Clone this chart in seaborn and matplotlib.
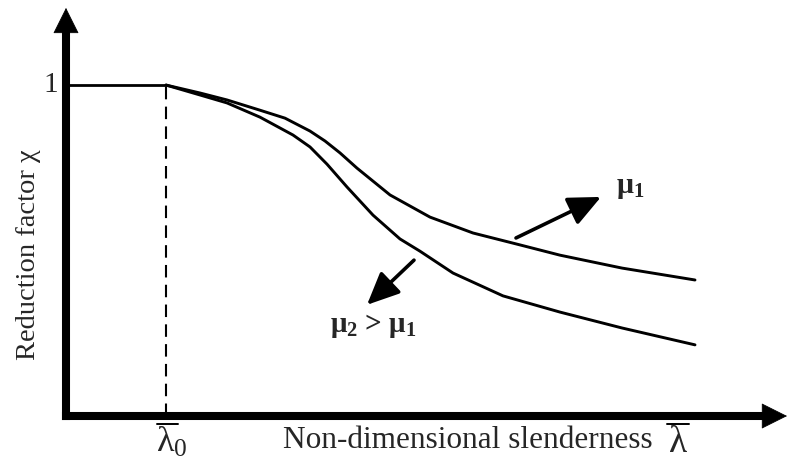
import matplotlib
matplotlib.use("Agg")
import matplotlib.pyplot as plt
import seaborn as sns
import pandas as pd

# Plateau of the reduction factor up to the limiting slenderness
lam_0 = 0.2
lam_plateau = [0.0, 0.2]
chi_plateau = [1.0, 1.0]

# Buckling curve for imperfection factor mu1 (upper curve)
lam_mu1 = [0.200, 0.268, 0.322, 0.388, 0.438, 0.488, 0.518, 0.548, 0.582,
           0.648, 0.728, 0.814, 0.908, 0.988, 1.112, 1.258]
chi_mu1 = [1.000, 0.976, 0.955, 0.924, 0.900, 0.861, 0.831, 0.795, 0.749,
           0.668, 0.601, 0.553, 0.517, 0.486, 0.447, 0.411]

# Buckling curve for imperfection factor mu2 > mu1 (lower curve)
lam_mu2 = [0.200, 0.268, 0.322, 0.388, 0.454, 0.488, 0.522, 0.562, 0.614,
           0.668, 0.708, 0.774, 0.874, 0.988, 1.112, 1.258]
chi_mu2 = [1.000, 0.970, 0.946, 0.903, 0.849, 0.813, 0.761, 0.692, 0.607,
           0.535, 0.498, 0.432, 0.363, 0.314, 0.266, 0.215]

sns.set_theme(style="white")
plt.rcParams["font.family"] = ["Liberation Serif", "DejaVu Serif"]
plt.rcParams["mathtext.fontset"] = "custom"
plt.rcParams["mathtext.rm"] = "Liberation Serif"
plt.rcParams["mathtext.it"] = "Liberation Serif:italic"
plt.rcParams["mathtext.bf"] = "Liberation Serif:bold"

fig = plt.figure(figsize=(7.87, 4.65), dpi=100)
ax = fig.add_axes([0, 0, 1, 1])
ax.set_xlim(-0.132, 1.442)
ax.set_ylim(-0.148, 1.257)
ax.set_axis_off()

curves = pd.concat([
    pd.DataFrame({"lam": lam_mu1, "chi": chi_mu1, "curve": "mu1"}),
    pd.DataFrame({"lam": lam_mu2, "chi": chi_mu2, "curve": "mu2"}),
])
sns.lineplot(data=curves, x="lam", y="chi", units="curve", estimator=None,
             sort=False, color="black", lw=2.1, ax=ax,
             solid_joinstyle="round", solid_capstyle="round")
sns.lineplot(x=lam_plateau, y=chi_plateau, color="black", lw=2.0, ax=ax)

# Limiting slenderness marker
ax.plot([lam_0, lam_0], [0.0, 1.0], color="black", lw=1.5,
        linestyle=(0, (6, 3.5)))

# Coordinate axes with arrowheads
axis_lw = 5.8
ax.plot([0.0, 0.0], [0.0, 1.160], color="black", lw=axis_lw,
        solid_capstyle="projecting")
ax.plot([0.0, 1.412], [0.0, 0.0], color="black", lw=axis_lw,
        solid_capstyle="projecting")
head = dict(arrowstyle="-|>,head_length=1.0,head_width=0.5",
            mutation_scale=17.3, lw=0.5, color="black",
            shrinkA=0, shrinkB=0)
ax.annotate("", xy=(0.0, 1.233), xytext=(0.0, 1.150), arrowprops=head)
ax.annotate("", xy=(1.442, 0.0), xytext=(1.400, 0.0), arrowprops=head)

# Arrows pointing to the curve labels
pointer = dict(arrowstyle="-|>,head_length=1.1,head_width=0.5",
               mutation_scale=18, lw=2.6, color="black",
               shrinkA=0, shrinkB=0)
ax.annotate("", xy=(1.070, 0.662), xytext=(0.900, 0.538), arrowprops=pointer)
ax.annotate("", xy=(0.602, 0.336), xytext=(0.696, 0.471), arrowprops=pointer)

# Labels
ax.text(-0.030, 1.0, "1", fontsize=21, ha="center", va="center")
ax.text(-0.076, 0.488, "Reduction factor χ", fontsize=20.5,
        rotation=90, ha="center", va="center")
ax.text(0.434, -0.074, "Non-dimensional slenderness",
        fontsize=22.5, ha="left", va="center")

# Slenderness symbols with their overbars
ax.text(1.224, -0.108, "λ", fontsize=27, ha="center", va="baseline")
ax.plot([1.202, 1.246], [-0.025, -0.025], color="black", lw=1.4)
ax.text(0.180, -0.108, r"$\mathrm{\lambda}_{\mathrm{0}}$",
        fontsize=26, ha="left", va="baseline")
ax.plot([0.182, 0.224], [-0.025, -0.025], color="black", lw=1.4)

ax.text(1.100, 0.690, r"$\mathbf{\mu}_{\mathbf{1}}$", fontsize=21.5,
        ha="left", va="center")
ax.text(0.528, 0.272,
        r"$\mathbf{\mu}_{\mathbf{2}}$ > $\mathbf{\mu}_{\mathbf{1}}$",
        fontsize=21, fontweight="bold", ha="left", va="center")

fig.savefig("out.png", dpi=100, facecolor="white")
